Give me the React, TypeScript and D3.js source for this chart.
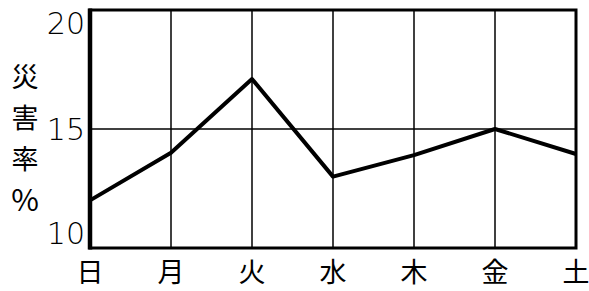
import * as d3 from "d3"
import React, { useRef, useEffect } from "react"

const days = ["日", "月", "火", "水", "木", "金", "土"]
const rates = [12.0, 14.0, 17.1, 13.0, 13.9, 15.0, 13.95]
const yTicks = [10, 15, 20]
const yTitle = ["災", "害", "率", "%"]

const width = 589
const height = 291

function App() {
    const ref = useRef<SVGSVGElement>(null)

    useEffect(() => {
        draw()
    }, [])

    const draw = () => {
        const svg = d3.select(ref.current)
        svg.selectAll("*").remove()

        const left = 90, right = 576, top = 10, bottom = 248

        const x = d3.scalePoint<string>()
            .domain(days)
            .range([left, right])

        const y = d3.scaleLinear()
            .domain([10, 20])
            .range([bottom, top])

        // vertical grid lines
        svg.selectAll("line.vgrid")
            .data(days.slice(1, -1))
            .enter()
            .append("line")
            .attr("x1", d => x(d)!)
            .attr("x2", d => x(d)!)
            .attr("y1", top)
            .attr("y2", bottom)
            .attr("stroke", "black")
            .attr("stroke-width", 1.5)

        // horizontal grid line at 15
        svg.selectAll("line.hgrid")
            .data(yTicks.slice(1, -1))
            .enter()
            .append("line")
            .attr("x1", left)
            .attr("x2", right)
            .attr("y1", d => y(d))
            .attr("y2", d => y(d))
            .attr("stroke", "black")
            .attr("stroke-width", 1.5)

        // the line
        const line = d3.line<number>()
            .x((d, i) => x(days[i])!)
            .y(d => y(d))

        svg.append("path")
            .datum(rates)
            .attr("d", line)
            .attr("fill", "none")
            .attr("stroke", "black")
            .attr("stroke-width", 4)
            .attr("stroke-linejoin", "round")

        // frame
        svg.append("rect")
            .attr("x", left)
            .attr("y", top)
            .attr("width", right - left)
            .attr("height", bottom - top)
            .attr("fill", "none")
            .attr("stroke", "black")
            .attr("stroke-width", 3)
        svg.append("line")
            .attr("x1", left)
            .attr("x2", left)
            .attr("y1", top - 1.5)
            .attr("y2", bottom + 1.5)
            .attr("stroke", "black")
            .attr("stroke-width", 4.5)

        // y tick labels
        svg.selectAll("text.ytick")
            .data(yTicks)
            .enter()
            .append("text")
            .attr("x", left - 5)
            .attr("y", d => Math.min(Math.max(y(d), top + 13), bottom - 15))
            .attr("dy", "0.36em")
            .attr("text-anchor", "end")
            .attr("font-family", "DejaVu Sans")
            .attr("font-weight", 200)
            .attr("font-size", 30)
            .text(d => d)

        // y title, stacked vertically
        svg.selectAll("text.ytitle")
            .data(yTitle)
            .enter()
            .append("text")
            .attr("x", 25)
            .attr("y", (d, i) => 77 + i * 41)
            .attr("dy", "0.36em")
            .attr("text-anchor", "middle")
            .attr("font-family", "Noto Sans CJK JP")
            .attr("font-size", (d, i) => i === 3 ? 30 : 27)
            .text(d => d)

        // x labels
        svg.selectAll("text.xtick")
            .data(days)
            .enter()
            .append("text")
            .attr("x", d => x(d)!)
            .attr("y", 272)
            .attr("dy", "0.36em")
            .attr("text-anchor", "middle")
            .attr("font-family", "Noto Sans CJK JP")
            .attr("font-size", 27)
            .text(d => d)
    }

    return (
        <svg ref={ref} width={width} height={height}
            style={{ position: "absolute", left: 0, top: 0, background: "white" }}>
        </svg>
    )
}

export default App
